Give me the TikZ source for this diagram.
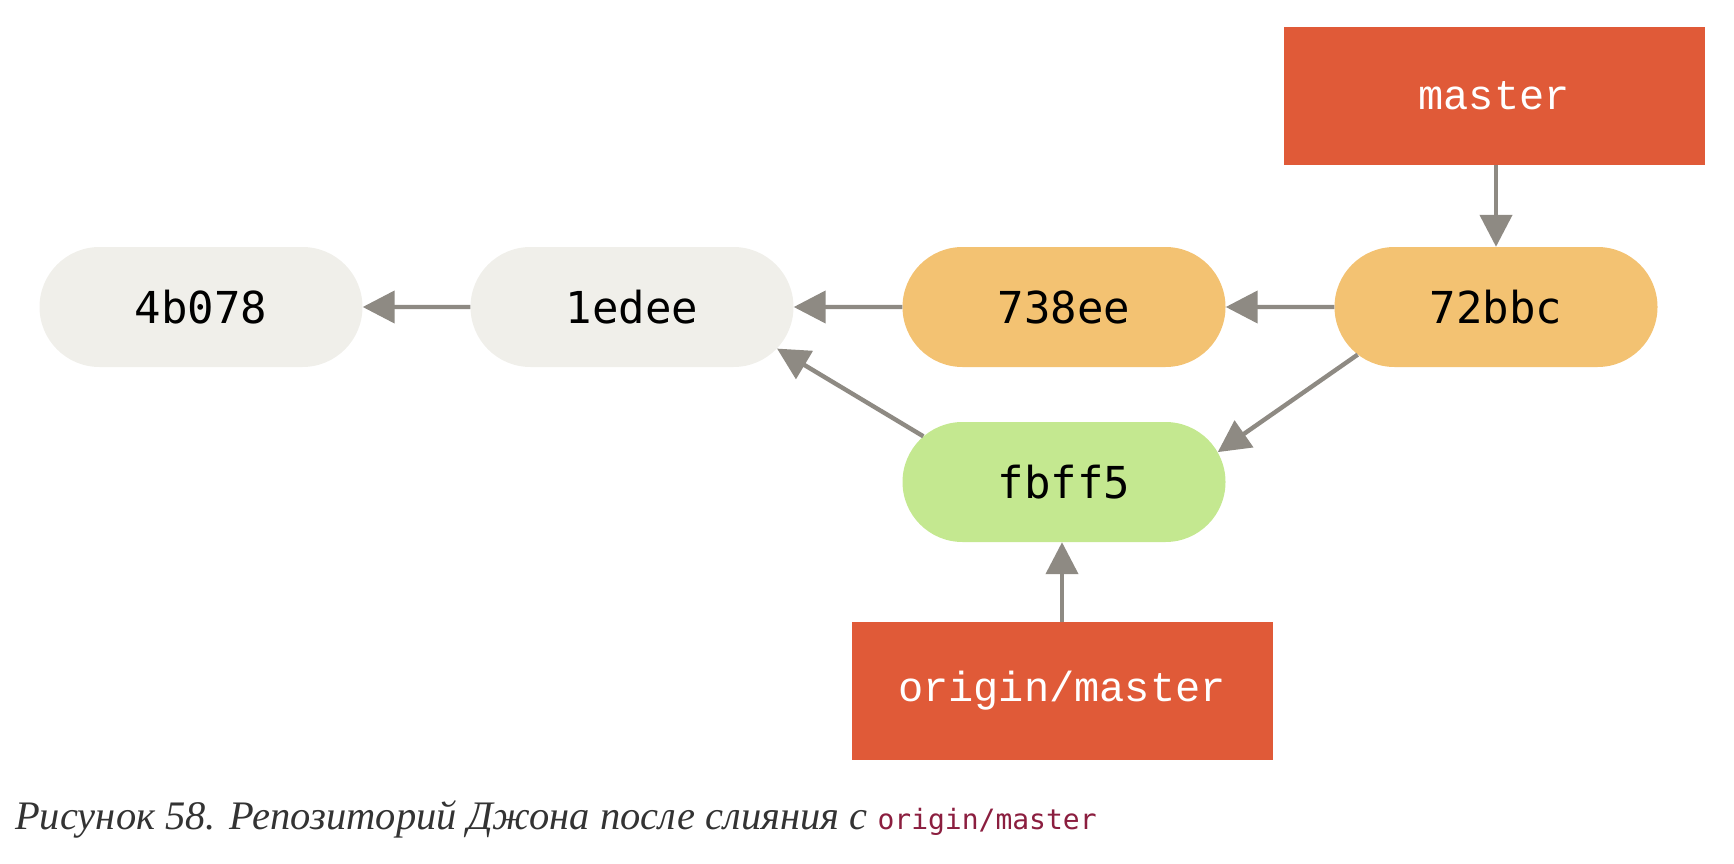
\documentclass[tikz,border=0pt]{standalone}
\usepackage{fontspec}
\setmainfont{Liberation Serif}
\newfontfamily\commitfont{DejaVu Sans Mono}
\newfontfamily\branchfont{Liberation Mono}
\newfontfamily\capmono{DejaVu Sans Mono}
\usetikzlibrary{shapes.misc,arrows.meta}
\definecolor{cgray}{HTML}{F0EFEA}
\definecolor{corange}{HTML}{F3C272}
\definecolor{cgreen}{HTML}{C4E890}
\definecolor{cred}{HTML}{E05A38}
\definecolor{lgray}{HTML}{8E8A83}
\definecolor{captext}{HTML}{333333}
\definecolor{capcode}{HTML}{8B1E3F}
\tikzset{
  commit/.style={rounded rectangle, minimum width=323pt, minimum height=120pt, inner sep=0pt, draw=none,
    font=\commitfont\fontsize{44}{50}\selectfont, text=black},
  branch/.style={rectangle, minimum width=421pt, minimum height=138pt, inner sep=0pt, fill=cred, draw=none,
    font=\branchfont\fontsize{42}{48}\selectfont, text=white},
  arr/.style={draw=lgray, line width=4.4pt, -{Triangle[length=32pt,width=32pt]}}
}
\begin{document}
\begin{tikzpicture}[x=1pt,y=-1pt]
\useasboundingbox (0,0) rectangle (1734,864);
\node[commit, fill=cgray] (c4b) at (201,307) {4b078};
\node[commit, fill=cgray] (c1e) at (632,307) {1edee};
\node[commit, fill=corange] (c73) at (1064,307) {738ee};
\node[commit, fill=corange] (c72) at (1496,307) {72bbc};
\node[commit, fill=cgreen] (cfb) at (1064,482) {fbff5};
\node[branch] (master) at (1494,96) {master};
\node[branch] (origin) at (1062,691) {origin/master};
\draw[arr] (c1e) -- (c4b);
\draw[arr] (c73) -- (c1e);
\draw[arr] (c72) -- (c73);
\draw[arr] (master.south -| c72.north) -- (c72.north);
\draw[arr] (cfb.162.5) -- (c1e.-16);
\draw[arr] (c72.199) -- (cfb.11);
\draw[arr] (origin.north) -- (origin.north |- cfb.south);
\node[anchor=base west, inner sep=0pt, text=captext] (cap) at (15,829)
  {\fontsize{40.5}{46}\selectfont\itshape Рисунок 58. Репозиторий Джона после слияния с \textcolor{capcode}{\capmono\upshape\fontsize{28}{34}\selectfont origin/master}};
\end{tikzpicture}
\end{document}
